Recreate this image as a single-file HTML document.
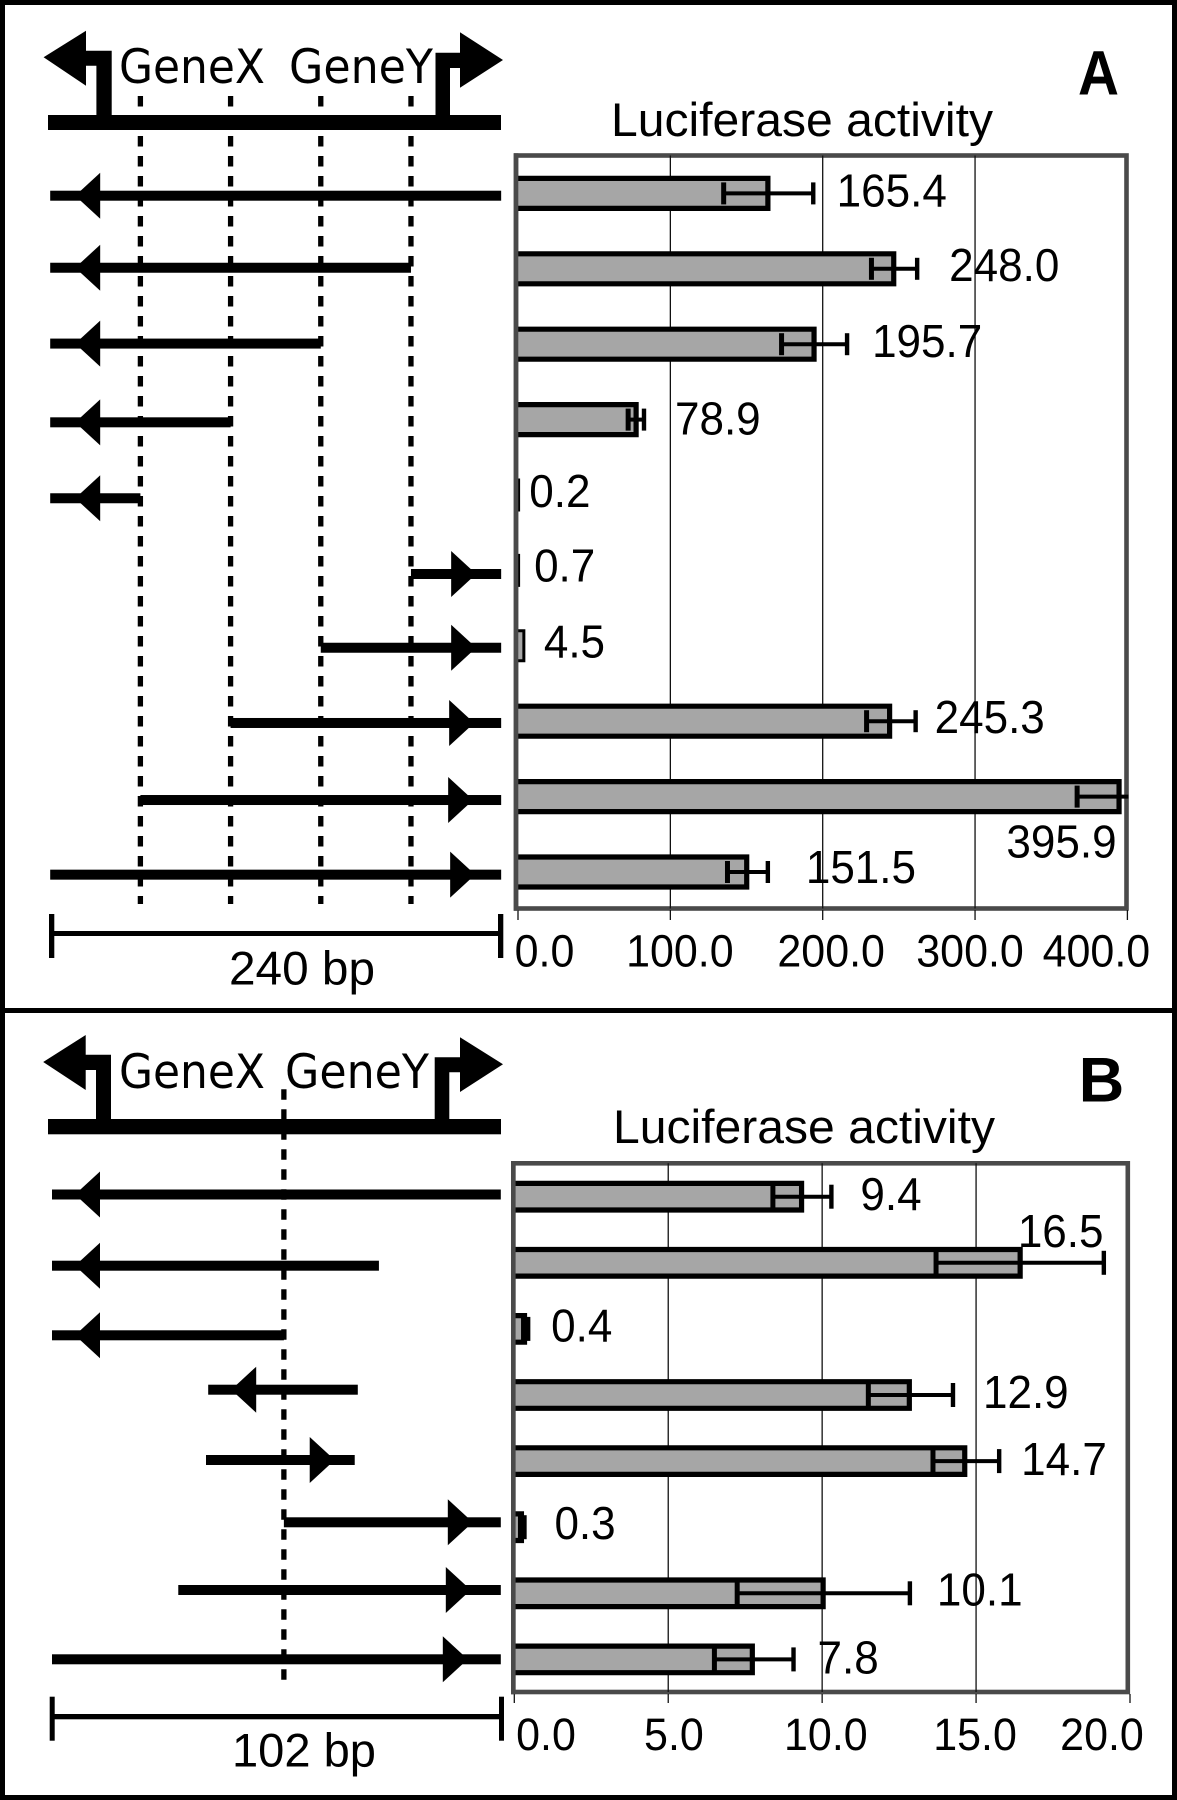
<!DOCTYPE html>
<html lang="en">
<head>
<meta charset="utf-8">
<title>Luciferase activity of GeneX / GeneY promoter fragments</title>
<style>
html,body{margin:0;padding:0;background:#fff}
svg{display:block}
text{font-family:"Liberation Sans",sans-serif;fill:#000}
.gene{font-family:"DejaVu Sans",sans-serif}
</style>
</head>
<body>
<svg id="figure" xmlns="http://www.w3.org/2000/svg" width="1177" height="1800" viewBox="0 0 1177 1800">
  <rect x="0" y="0" width="1177" height="1800" fill="#fff"/>

  <g id="panel-a">
    <text x="1078" y="94.3" font-size="63" font-weight="bold" textLength="41" lengthAdjust="spacingAndGlyphs">A</text>
    <text x="611" y="136" font-size="47" textLength="382" lengthAdjust="spacingAndGlyphs">Luciferase activity</text>
    <g id="dashes-a"></g>
    <text class="gene" x="119" y="83" font-size="47" textLength="146" lengthAdjust="spacingAndGlyphs">GeneX</text>
    <text class="gene" x="289" y="83" font-size="47" textLength="144" lengthAdjust="spacingAndGlyphs">GeneY</text>
    <rect x="48" y="115" width="453" height="15" fill="#000"/>
    <polygon fill="#000" points="43.6,57.3 86,30.7 86,50.7 111.7,50.7 111.7,115 96.4,115 96.4,65.7 86,65.7 86,85.7"/>
    <polygon fill="#000" points="503,60 460,32.3 460,52.7 435.5,52.7 435.5,115 450,115 450,68 460,68 460,87.7"/>
    <g id="fragments-a"></g>
    <g fill="#000">
      <rect x="50" y="931" width="451" height="5"/>
      <rect x="49" y="914" width="5.3" height="44"/>
      <rect x="498" y="914" width="5.3" height="44"/>
    </g>
    <text x="229" y="984.5" font-size="47" textLength="146" lengthAdjust="spacingAndGlyphs">240 bp</text>
    <g id="chart-a"></g>
  </g>

  <g id="panel-b">
    <text x="1078.7" y="1101.3" font-size="63" font-weight="bold">B</text>
    <text x="613" y="1143" font-size="47" textLength="382" lengthAdjust="spacingAndGlyphs">Luciferase activity</text>
    <g id="dashes-b"></g>
    <text class="gene" x="119" y="1088" font-size="47" textLength="146" lengthAdjust="spacingAndGlyphs">GeneX</text>
    <text class="gene" x="285" y="1088" font-size="47" textLength="144" lengthAdjust="spacingAndGlyphs">GeneY</text>
    <rect x="48" y="1119" width="453" height="15.3" fill="#000"/>
    <polygon fill="#000" points="43.2,1062 85.7,1035 85.7,1054.7 111,1054.7 111,1119 96,1119 96,1070 85.7,1070 85.7,1090"/>
    <polygon fill="#000" points="503,1064.3 460,1037.3 460,1057.3 434.7,1057.3 434.7,1119 449.3,1119 449.3,1072.3 460,1072.3 460,1092"/>
    <g id="fragments-b"></g>
    <g fill="#000">
      <rect x="50" y="1714" width="453" height="5.3"/>
      <rect x="49.7" y="1696.7" width="5" height="44"/>
      <rect x="499" y="1696.7" width="5" height="44"/>
    </g>
    <text x="232" y="1766.7" font-size="47" textLength="144" lengthAdjust="spacingAndGlyphs">102 bp</text>
    <g id="chart-b"></g>
  </g>

  <g fill="#000">
    <rect x="0" y="0" width="1177" height="5"/>
    <rect x="0" y="0" width="5" height="1800"/>
    <rect x="1172" y="0" width="5" height="1800"/>
    <rect x="0" y="1795" width="1177" height="5"/>
    <rect x="0" y="1008" width="1177" height="5"/>
  </g>
</svg>

<script>
// ---- Panel A data ----
const constructsA = ['c1','c2','c3','c4','c5','c6','c7','c8','c9','c10'];
const valuesA = [165.4, 248.0, 195.7, 78.9, 0.2, 0.7, 4.5, 245.3, 395.9, 151.5];
const errMinusA = [30.4, 16, 22.7, 6.6, 0, 0, 0, 16.5, 28.9, 14];
const errPlusA = [28.4, 14, 20.3, 3.8, 0, 0, 0, 15.7, 28.9, 12.5];
const tickValuesA = [0, 100, 200, 300, 400];
const fragStartBpA = [0, 0, 0, 0, 0, 192, 144, 96, 48, 0];
const fragEndBpA = [240, 192, 144, 96, 48, 240, 240, 240, 240, 240];
const fragDirA = ['L','L','L','L','L','R','R','R','R','R'];
const guideBpA = [48, 96, 144, 192];

// ---- Panel B data ----
const constructsB = ['c1','c2','c3','c4','c5','c6','c7','c8'];
const valuesB = [9.4, 16.5, 0.4, 12.9, 14.7, 0.3, 10.1, 7.8];
const errMinusB = [1, 2.8, 0.1, 1.4, 1.1, 0.1, 2.86, 1.3];
const errPlusB = [0.9, 2.65, 0.05, 1.35, 1.05, 0.03, 2.75, 1.27];
const tickValuesB = [0, 5, 10, 15, 20];
const fragStartBpB = [0, 0, 0, 35.5, 35, 52.7, 28.7, 0];
const fragEndBpB = [102, 74.3, 52.7, 69.5, 68.8, 102, 102, 102];
const fragDirB = ['L','L','L','L','R','R','R','R'];
const guideBpB = [52.7];

// ---- Hand-placement of the original figure (layout, not data) ----
const layoutA = {
  x0: 518, xMax: 1127.4, axisMax: 400, boxL: 516, boxR: 1126.5, boxT: 155.5, boxB: 908.5,
  tickTop: 910, tickBottom: 920, tickBaseline: 966.7, tickNudge: [26.5, 9.5, 8.5, -5, -31],
  barY0: 193.4, barStep: 75.4, barH: 30, capH: 22,
  labelDx: [23.4, 32, 25, 31, 11, 15, 19, 19, -121, 38],
  labelDy: [13, 12, 12.7, 14.7, 12, 11, 11.7, 12, 60.7, 11],
  rowY0: 195.7, rowStep: 75.44, rowNudge: [0, -3.4, -3, 0.3, 0.8, 1.1, -0.6, -0.8, 0.8, 0],
  mapX0: 50.2, mapPxPerBp: 1.879,
  headInsetL: 50, headInsetR: [0,0,0,0,0,50,50,52,53,51],
  guideTop: 96, guideBottom: 904
};
const layoutB = {
  x0: 514.3, xMax: 1130, axisMax: 20, boxL: 513.3, boxR: 1127.8, boxT: 1163.3, boxB: 1692,
  tickTop: 1694, tickBottom: 1703, tickBaseline: 1750, tickNudge: [31.7, 5.7, 3.7, -1, -28],
  barY0: 1196.7, barStep: 66.1, barH: 26.6, capH: 24,
  labelDx: [29, -86, 23, 30, 22, 30, 27, 24],
  labelDy: [13.3, -16, 12.7, 13, 14, 12, 12, 14],
  rowY0: 1194.5, rowStep: 66.4, rowNudge: [0, 4.8, 8, -4, -0.1, -4.2, -2.9, 0],
  mapX0: 52, mapPxPerBp: 4.4,
  headInsetL: 48, headInsetR: [0,0,0,0,45,53,55,58],
  guideTop: 1089.3, guideBottom: 1680
};

const SVGNS = 'http://www.w3.org/2000/svg';
function mk(tag, attrs, parent) {
  const el = document.createElementNS(SVGNS, tag);
  for (const k in attrs) el.setAttribute(k, attrs[k]);
  parent.appendChild(el);
  return el;
}
// Taller glyphs with the original's narrower set width.
function squeeze(el, factor) {
  const len = el.getComputedTextLength();
  el.setAttribute('textLength', (len * factor).toFixed(2));
  el.setAttribute('lengthAdjust', 'spacingAndGlyphs');
}

function drawGuides(host, guides, L) {
  guides.forEach(function (bp) {
    const gx = L.mapX0 + bp * L.mapPxPerBp;
    const guide = mk('line', {x1: gx, x2: gx, y1: L.guideTop, y2: L.guideBottom, stroke: '#000', 'stroke-width': 5.3, 'stroke-dasharray': '10.5 9.5'}, host);
    
    
  });
}

function drawFragments(host, starts, ends, dirs, L) {
  const mapX = function (bp) { return L.mapX0 + bp * L.mapPxPerBp; };
  starts.forEach(function (s, i) {
    const cy = L.rowY0 + i * L.rowStep + L.rowNudge[i];
    const xa = mapX(s);
    const xb = mapX(ends[i]);
    const frag = mk('rect', {x: xa, y: cy - 5, width: xb - xa, height: 10, fill: '#000'}, host);
    
    
    let pts;
    if (dirs[i] === 'L') {
      const base = xa + L.headInsetL;
      pts = (base - 25) + ',' + cy + ' ' + base + ',' + (cy - 23) + ' ' + base + ',' + (cy + 23);
    } else {
      const base = xb - L.headInsetR[i];
      pts = (base + 25) + ',' + cy + ' ' + base + ',' + (cy - 23) + ' ' + base + ',' + (cy + 23);
    }
    const head = mk('polygon', {points: pts, fill: '#000'}, host);
    
    
  });
}

function drawChart(host, values, minus, plus, ticks, L) {
  const x = function (v) { return L.x0 + (v / L.axisMax) * (L.xMax - L.x0); };
  const y = function (i) { return L.barY0 + i * L.barStep; };

  const box = mk('rect', {x: L.boxL, y: L.boxT, width: L.boxR - L.boxL, height: L.boxB - L.boxT, fill: '#fff', stroke: '#4a4a4a', 'stroke-width': 4.6}, host);
  
  

  ticks.forEach(function (t, i) {
    const tx = x(t);
    if (t > 0 && t < L.axisMax) {
      const grid = mk('line', {x1: tx, x2: tx, y1: L.boxT, y2: L.boxB, stroke: '#111', 'stroke-width': 1.3}, host);
      
      
    }
    const tick = mk('line', {x1: tx, x2: tx, y1: L.tickTop, y2: L.tickBottom, stroke: '#111', 'stroke-width': 1.3}, host);
    
    
    const lab = mk('text', {x: tx + L.tickNudge[i], y: L.tickBaseline, 'font-size': 45, 'text-anchor': 'middle'}, host);
    
    
    lab.textContent = t.toFixed(1);
    squeeze(lab, 0.955);
  });

  values.forEach(function (v, i) {
    const cy = y(i);
    const pxLen = x(v) - L.x0;
    const sw = pxLen < 8 ? 3 : 5.2;
    const right = Math.max(L.x0 + 0.6, x(v) - sw / 2 + 0.5);
    const top = cy - L.barH / 2;
    const bottom = cy + L.barH / 2;
    const bar = mk('path', {d: 'M' + L.x0 + ',' + top + 'H' + right + 'V' + bottom + 'H' + L.x0, fill: '#a6a6a6', stroke: '#000', 'stroke-width': sw}, host);
    
    

    const rawHigh = x(v + plus[i]);
    const highX = Math.min(rawHigh, L.xMax + 1);
    const lowX = x(v - minus[i]);
    if (minus[i] > 0 || plus[i] > 0) {
      const whisker = mk('line', {x1: lowX, x2: highX, y1: cy, y2: cy, stroke: '#000', 'stroke-width': 4}, host);
      
      
      const lowCap = mk('line', {x1: lowX, x2: lowX, y1: cy - L.capH / 2, y2: cy + L.capH / 2, stroke: '#000', 'stroke-width': 5}, host);
      
      
      if (rawHigh <= L.xMax) {
        const highCap = mk('line', {x1: highX, x2: highX, y1: cy - L.capH / 2, y2: cy + L.capH / 2, stroke: '#000', 'stroke-width': 4.4}, host);
        
        
      }
    }

    const val = mk('text', {x: Math.min(rawHigh, L.xMax) + L.labelDx[i], y: cy + L.labelDy[i], 'font-size': 46}, host);
    
    
    val.textContent = v.toFixed(1);
    squeeze(val, 0.957);
  });

  const leftEdge = mk('line', {x1: L.boxL, x2: L.boxL, y1: L.boxT - 2.3, y2: L.boxB + 2.3, stroke: '#4a4a4a', 'stroke-width': 4.6}, host);
  
  
}

drawGuides(document.getElementById('dashes-a'), guideBpA, layoutA);
drawFragments(document.getElementById('fragments-a'), fragStartBpA, fragEndBpA, fragDirA, layoutA);
drawChart(document.getElementById('chart-a'), valuesA, errMinusA, errPlusA, tickValuesA, layoutA);

drawGuides(document.getElementById('dashes-b'), guideBpB, layoutB);
drawFragments(document.getElementById('fragments-b'), fragStartBpB, fragEndBpB, fragDirB, layoutB);
drawChart(document.getElementById('chart-b'), valuesB, errMinusB, errPlusB, tickValuesB, layoutB);
</script>
</body>
</html>
